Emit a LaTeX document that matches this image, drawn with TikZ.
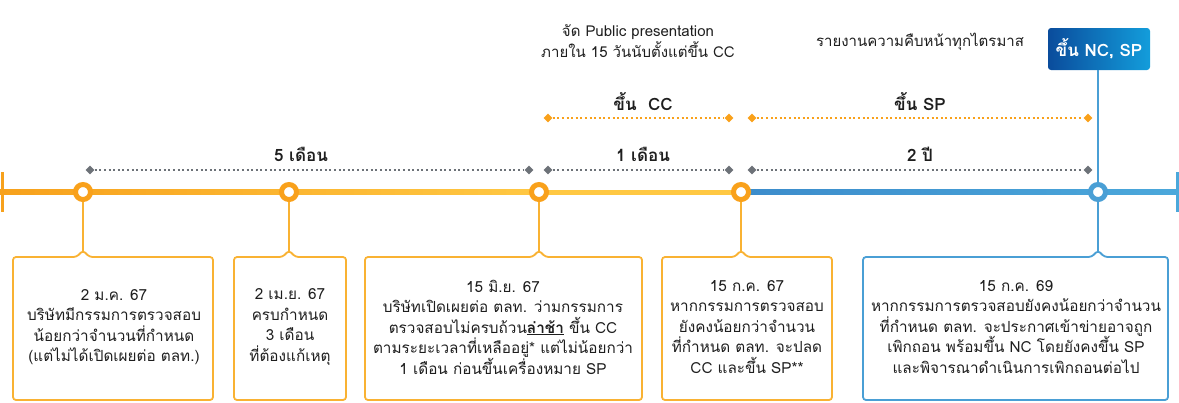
\documentclass[tikz,border=0pt]{standalone}
\usepackage{fontspec}
\setmainfont{Loma}[Script=Thai]
\usetikzlibrary{shapes.geometric}
\definecolor{org}{HTML}{F9A11B}
\definecolor{orgbox}{HTML}{F9B233}
\definecolor{orgL}{HTML}{F7A11C}
\definecolor{orgR}{HTML}{FFC843}
\definecolor{blueL}{HTML}{3C8CCB}
\definecolor{blueR}{HTML}{4BA8DB}
\definecolor{bluebox}{HTML}{4A9FD5}
\definecolor{bdark}{HTML}{0A4C9C}
\definecolor{blight}{HTML}{139DDB}
\definecolor{grayd}{HTML}{6D7278}
\definecolor{txt}{HTML}{1E1E1E}
\tikzset{
  body/.style={font=\fontsize{15.3}{20.5}\selectfont, text=txt, align=center, inner sep=0pt},
  head/.style={font=\fontsize{17}{20}\selectfont\bfseries, text=txt, inner sep=0pt},
  note/.style={font=\fontsize{15}{21}\selectfont, text=txt, align=center, inner sep=0pt},
  ring/.style={circle, draw=#1, line width=5pt, fill=white, minimum size=15pt, inner sep=0pt},
  gdia/.style={diamond, fill=grayd, inner sep=0pt, minimum size=9pt},
  odia/.style={diamond, fill=org, inner sep=0pt, minimum size=9pt},
  gdot/.style={grayd, line width=1.6pt, dash pattern=on 2pt off 2.6pt},
  odot/.style={org, line width=1.6pt, dash pattern=on 2pt off 2.6pt},
  conn/.style={line width=1.6pt},
  boxline/.style={line width=1.8pt, rounded corners=3pt},
}
\newcommand\notchbox[5]{% x1, x2, notch x, color, notch name
  \draw[boxline, #4] (#1,257) -- (#3-6.5,257) -- (#3,250.5) coordinate (#5) -- (#3+6.5,257) -- (#2,257) -- (#2,400) -- (#1,400) -- cycle;}
\begin{document}
\begin{tikzpicture}[x=1pt,y=-1pt]
\useasboundingbox (0,0) rectangle (1179,402);
% timeline
\shade[left color=orgL, right color=orgR] (0,189.5) rectangle (540,194.5);
\fill[orgR] (540,189.5) rectangle (742,194.5);
\shade[left color=blueL, right color=blueR] (742,189.5) rectangle (1177,194.5);
\fill[orgL] (0.5,172) rectangle (3.5,212);
\fill[blueR] (1175.5,172) rectangle (1178.5,212);
% boxes
\notchbox{13}{213}{83}{orgbox}{n1}
\notchbox{234}{346}{289}{orgbox}{n2}
\notchbox{365}{642}{539}{orgbox}{n3}
\notchbox{662}{832}{741}{orgbox}{n4}
\notchbox{863}{1168}{1098}{bluebox}{n5}
% top blue box
\node[left color=bdark, right color=blight, rounded corners=3pt, minimum width=102pt, minimum height=42pt, inner sep=0pt,
  text=white, font=\fontsize{17}{20}\selectfont\bfseries] (nc) at (1099,49) {ขึ้น NC, SP};
% circles
\node[ring=org] (c1) at (83,192) {};
\node[ring=org] (c2) at (289,192) {};
\node[ring=org] (c3) at (539,192) {};
\node[ring=org] (c4) at (741,192) {};
\node[ring=bluebox] (c5) at (1098,192) {};
% connectors
\draw[conn, orgbox] (c1.south) -- (n1);
\draw[conn, orgbox] (c2.south) -- (n2);
\draw[conn, orgbox] (c3.south) -- (n3);
\draw[conn, orgbox] (c4.south) -- (n4);
\draw[conn, bluebox] (c5.south) -- (n5);
\draw[conn, bluebox] (nc.south -| c5) -- (c5.north);
% gray span markers
\node[gdia] (g1a) at (90,170) {};
\node[gdia] (g1b) at (529,170) {};
\node[gdia] (g2a) at (548,170) {};
\node[gdia] (g2b) at (729,170) {};
\node[gdia] (g3a) at (752,170) {};
\node[gdia] (g3b) at (1088,170) {};
\draw[gdot] (g1a) -- (g1b);
\draw[gdot] (g2a) -- (g2b);
\draw[gdot] (g3a) -- (g3b);
% orange span markers
\node[odia] (o1a) at (548,118) {};
\node[odia] (o1b) at (729,118) {};
\node[odia] (o2a) at (752,118) {};
\node[odia] (o2b) at (1088,118) {};
\draw[odot] (o1a) -- (o1b);
\draw[odot] (o2a) -- (o2b);
% headings
\node[head] (h1) at (301,154) {5 เดือน};
\node[head] (h2) at (643,154) {1 เดือน};
\node[head] (h3) at (920,154) {2 ปี};
\node[head] (h4) at (643,102) {ขึ้น~~CC};
\node[head] (h5) at (920,102) {ขึ้น SP};
% top notes
\node[note] (t1) at (638,41) {จัด Public presentation\\ภายใน 15 วันนับตั้งแต่ขึ้น CC};
\node[note] (t2) at (920,42) {รายงานความคืบหน้าทุกไตรมาส};
% box texts
\node[body] (b1) at (114,327) {2 ม.ค. 67\\บริษัทมีกรรมการตรวจสอบ\\น้อยกว่าจำนวนที่กำหนด\\(แต่ไม่ได้เปิดเผยต่อ ตลท.)};
\node[body] (b2) at (290,327) {2 เม.ย. 67\\ครบกำหนด\\3 เดือน\\ที่ต้องแก้เหตุ};
\node[body] (b3) at (503,327) {15 มิ.ย. 67\\บริษัทเปิดเผยต่อ ตลท. ว่ามกรรมการ\\ตรวจสอบไม่ครบถ้วน\underline{\textbf{ล่าช้า}} ขึ้น CC\\ตามระยะเวลาที่เหลืออยู่* แต่ไม่น้อยกว่า\\1 เดือน ก่อนขึ้นเครื่องหมาย SP};
\node[body] (b4) at (747,327) {15 ก.ค. 67\\หากกรรมการตรวจสอบ\\ยังคงน้อยกว่าจำนวน\\ที่กำหนด ตลท. จะปลด\\CC และขึ้น SP**};
\node[body] (b5) at (1016,327) {15 ก.ค. 69\\หากกรรมการตรวจสอบยังคงน้อยกว่าจำนวน\\ที่กำหนด ตลท. จะประกาศเข้าข่ายอาจถูก\\เพิกถอน พร้อมขึ้น NC โดยยังคงขึ้น SP\\และพิจารณาดำเนินการเพิกถอนต่อไป};
\end{tikzpicture}
\end{document}
